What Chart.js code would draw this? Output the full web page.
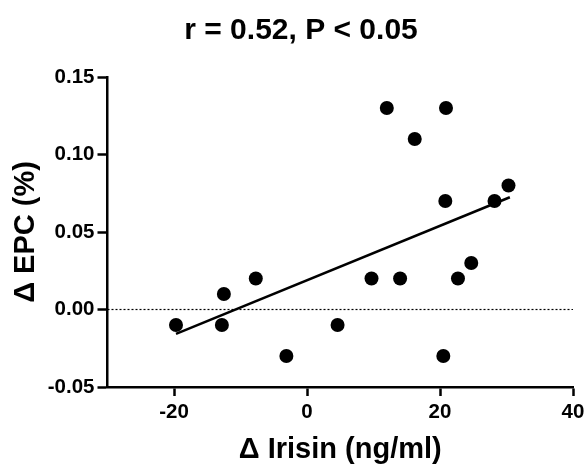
<!DOCTYPE html>
<html>
<head>
<meta charset="utf-8">
<script src="https://cdn.jsdelivr.net/npm/chart.js@4.4.1/dist/chart.umd.min.js"></script>
<style>
  html, body { margin: 0; padding: 0; background: #fff; }
  #wrap { width: 585px; height: 465px; }
</style>
</head>
<body>
<div id="wrap"><canvas id="chart"></canvas></div>
<script>
var irisin = [-19.7, -12.8, -12.5, -7.7, -3.1, 4.6, 9.7, 12.0, 14.0, 16.2, 20.9, 20.8, 20.5, 22.7, 24.7, 28.2, 30.3];
var epc    = [-0.01, -0.01, 0.01, 0.02, -0.03, -0.01, 0.02, 0.13, 0.02, 0.11, 0.13, 0.07, -0.03, 0.02, 0.03, 0.07, 0.08];
var fitX = [-19.7, 30.5];
var fitY = [-0.0157, 0.0724];
var zeroX = [-30, 40];
var zeroY = [0, 0];
var xTicks = [-20, 0, 20, 40];

function toPoints(xs, ys) {
  var pts = [];
  for (var i in xs) {
    pts.push({x: xs[i], y: ys[i]});
  }
  return pts;
}

Chart.defaults.font.family = "'Liberation Sans', Arial, sans-serif";
Chart.defaults.color = "#000";

// title sits a bit right of the canvas centre in the original
var shiftTitle = {
  id: 'shiftTitle',
  afterLayout: function (chart) {
    if (chart.titleBlock) chart.titleBlock.left += 29;
  }
};

var ctx = document.getElementById("chart");

var chart = new Chart(ctx, {
  type: 'scatter',
  plugins: [shiftTitle],
  data: {
    datasets: [
      {
        label: "zero",
        type: 'line',
        data: toPoints(zeroX, zeroY),
        borderColor: "#000",
        borderWidth: 1.2,
        borderDash: [2, 2],
        pointRadius: 0,
        fill: false
      },
      {
        label: "fit",
        type: 'line',
        data: toPoints(fitX, fitY),
        borderColor: "#000",
        borderWidth: 2.5,
        pointRadius: 0,
        fill: false
      },
      {
        label: "EPC",
        data: toPoints(irisin, epc),
        backgroundColor: "#000",
        borderWidth: 0,
        pointRadius: 7,
        pointHoverRadius: 7
      }
    ]
  },
  options: {
    responsive: true,
    maintainAspectRatio: false,
    animation: false,
    devicePixelRatio: 1,
    layout: { padding: { left: 0, right: 12, top: 0, bottom: 0 } },
    plugins: {
      legend: { display: false },
      tooltip: { enabled: false },
      title: {
        display: true,
        text: "r = 0.52, P < 0.05",
        color: "#000",
        font: { size: 30, weight: 'bold' },
        padding: { top: 13, bottom: 28 }
      }
    },
    scales: {
      x: {
        type: 'linear',
        min: -30,
        max: 40,
        afterFit: function (scale) {
          scale.height = 78;
          scale.paddingRight = 0;
        },
        afterBuildTicks: function (scale) {
          scale.ticks = xTicks.map(function (v) { return {value: v}; });
        },
        ticks: {
          font: { size: 20.5, weight: 'bold' },
          padding: 4,
          maxRotation: 0
        },
        grid: {
          drawOnChartArea: false,
          drawTicks: true,
          tickLength: 9,
          tickWidth: 2.5,
          tickColor: "#000"
        },
        border: { display: true, color: "#000", width: 2.5 },
        title: {
          display: true,
          text: "Δ Irisin (ng/ml)",
          font: { size: 29, weight: 'bold' },
          padding: { top: 0, bottom: -2 }
        }
      },
      y: {
        type: 'linear',
        min: -0.05,
        max: 0.15,
        afterFit: function (scale) { scale.width = 107.5; },
        ticks: {
          stepSize: 0.05,
          font: { size: 20.5, weight: 'bold' },
          padding: 3,
          callback: function (v) { return Number(v).toFixed(2); }
        },
        grid: {
          drawOnChartArea: false,
          drawTicks: true,
          tickLength: 10,
          tickWidth: 2.5,
          tickColor: "#000"
        },
        border: { display: true, color: "#000", width: 2.5 },
        title: {
          display: true,
          text: "Δ EPC (%)",
          font: { size: 29, weight: 'bold' },
          padding: { top: 9, bottom: 0 }
        }
      }
    }
  }
});
</script>
</body>
</html>
